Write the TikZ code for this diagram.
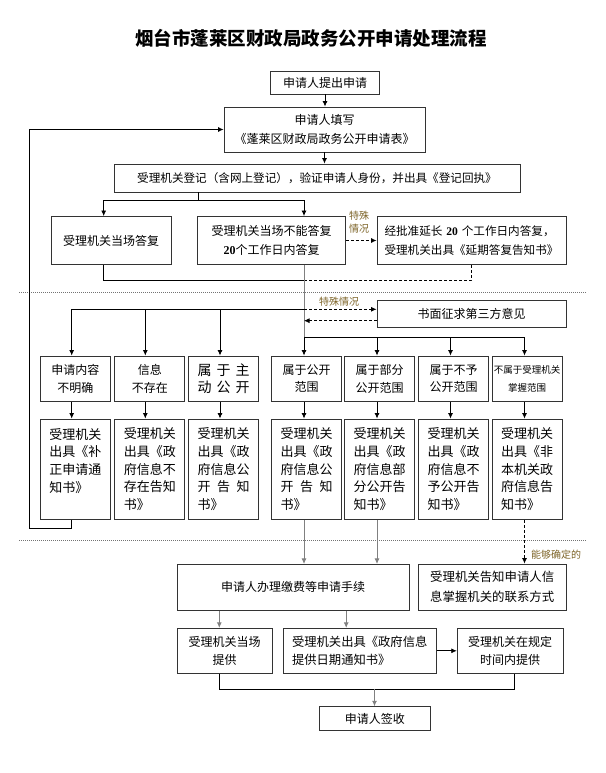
\documentclass[tikz,border=0pt]{standalone}
\usepackage{fontspec}
\setmainfont{Noto Sans CJK SC}
\newfontfamily\tnr{Liberation Serif}
\usetikzlibrary{arrows.meta,calc}
\definecolor{labc}{RGB}{125,100,40}
\newcommand\myfs[2]{\fontsize{#1}{#2}\selectfont}
\newcommand\twenty{{\tnr\bfseries 20}}
\begin{document}
\begin{tikzpicture}[x=1pt,y=-1pt,
 bx/.style={draw=black!80, line width=0.9pt, inner sep=0pt, align=center, fill=white, font=\myfs{12}{18}},
 hbx/.style={bx, minimum width=70pt, minimum height=45.5pt, font=\myfs{12}{17.6}},
 ibx/.style={bx, minimum width=70pt, minimum height=100.3pt, text width=52pt, align=left, font=\myfs{13}{17.8}},
 ln/.style={line width=0.8pt, draw=black},
 gln/.style={line width=0.8pt, draw=black!50},
 arw/.style={-{Latex[length=5.5pt,width=5pt]}},
 dsh/.style={line width=0.8pt, draw=black, dash pattern=on 3pt off 2pt},
 sepline/.style={draw=black!55, line width=0.6pt, dash pattern=on 1pt off 1pt},
 lab/.style={text=labc, inner sep=0pt, align=center, font=\myfs{10}{13}},
]
\fill[white] (0,0) rectangle (605,773);
\useasboundingbox (0,0) rectangle (605,773);

% title
\node[font=\myfs{18.5}{22}\bfseries] (T) at (311,38) {烟台市蓬莱区财政局政务公开申请处理流程};

% top part
\node[bx, minimum width=109pt, minimum height=23pt] (A) at (325,82.5) {申请人提出申请};
\node[bx, minimum width=201pt, minimum height=45pt, font=\myfs{12}{19}] (B) at (324.5,129.5) {申请人填写\\《蓬莱区财政局政务公开申请表》};
\node[bx, minimum width=406pt, minimum height=28pt, font=\myfs{11.6}{18}] (C) at (317,178) {受理机关登记（含网上登记），验证申请人身份，并出具《登记回执》};
\node[bx, minimum width=120pt, minimum height=48pt] (D) at (111,240.5) {受理机关当场答复};
\node[bx, minimum width=148pt, minimum height=48pt, font=\myfs{12}{18.3}] (E) at (271.5,240.5) {受理机关当场不能答复\\\twenty 个工作日内答复};
\node[bx, minimum width=189pt, minimum height=48pt, text width=174pt, align=left, font=\myfs{11.6}{18.3}] (F) at (471.5,240.5) {经批准延长 \twenty{} 个工作日内答复，\\受理机关出具《延期答复告知书》};
\node[bx, minimum width=189pt, minimum height=27pt] (G) at (471.5,314.2) {书面征求第三方意见};

% row H
\node[hbx] (H1) at (75.3,378.75) {申请内容\\不明确};
\node[hbx] (H2) at (149.9,378.75) {信息\\不存在};
\node[hbx, font=\myfs{14}{17.4}] (H3) at (223.7,378.75) {\makebox[52pt][s]{属\hfill 于\hfill 主}\\\makebox[52pt][s]{动\hfill 公\hfill 开}};
\node[hbx] (H4) at (306.7,378.75) {属于公开\\范围};
\node[hbx] (H5) at (379.5,378.75) {属于部分\\公开范围};
\node[hbx] (H6) at (453.5,378.75) {属于不予\\公开范围};
\node[hbx, font=\myfs{9.5}{17.6}] (H7) at (527,378.75) {不属于受理机关\\掌握范围};

% row I
\node[ibx] (I1) at (75.3,469.15) {受理机关\\出具《补\\正申请通\\知书》\\\mbox{}};
\node[ibx] (I2) at (149.9,469.15) {受理机关\\出具《政\\府信息不\\存在告知\\书》};
\node[ibx] (I3) at (223.7,469.15) {受理机关\\出具《政\\府信息公\\\makebox[52pt][s]{开\hfill 告\hfill 知}\\书》};
\node[ibx] (I4) at (306.7,469.15) {受理机关\\出具《政\\府信息公\\\makebox[52pt][s]{开\hfill 告\hfill 知}\\书》};
\node[ibx] (I5) at (379.5,469.15) {受理机关\\出具《政\\府信息部\\分公开告\\知书》};
\node[ibx] (I6) at (453.5,469.15) {受理机关\\出具《政\\府信息不\\予公开告\\知书》};
\node[ibx] (I7) at (527,469.15) {受理机关\\出具《非\\本机关政\\府信息告\\知书》};

% bottom part
\node[bx, minimum width=232pt, minimum height=45.7pt] (J) at (293,587.2) {申请人办理缴费等申请手续};
\node[bx, minimum width=147.7pt, minimum height=46pt, text width=124pt, align=left, font=\myfs{12.4}{20}] (K) at (492.2,587) {受理机关告知申请人信\\息掌握机关的联系方式};
\node[bx, minimum width=95pt, minimum height=45pt, font=\myfs{12}{18.3}] (L1) at (224.5,650.8) {受理机关当场\\提供};
\node[bx, minimum width=153.4pt, minimum height=45pt, text width=135.3pt, align=left, font=\myfs{12.3}{18.3}] (L2) at (359.7,650.8) {受理机关出具《政府信息\\提供日期通知书》};
\node[bx, minimum width=105.7pt, minimum height=45pt, font=\myfs{12}{18.3}] (L3) at (510.1,650.8) {受理机关在规定\\时间内提供};
\node[bx, minimum width=110.5pt, minimum height=24pt] (M) at (374.75,718.7) {申请人签收};

% labels
\node[lab] (s1) at (359,222.5) {特殊\\情况};
\node[lab] (s2) at (339,302) {特殊情况};
\node[lab] (s3) at (556,555) {能够确定的};

% separators
\draw[sepline] (19,292) -- (587,292);
\draw[sepline] (19,540.5) -- (587,540.5);

% x positions
\coordinate (xD) at (103.7,0);
\coordinate (xE) at (304,0);
\coordinate (xH1) at (71.7,0);
\coordinate (xH2) at (145.3,0);
\coordinate (xH3) at (220,0);
\coordinate (xH5) at (377,0);
\coordinate (xH6) at (450.5,0);
\coordinate (xH7) at (524.5,0);
\coordinate (xL1) at (219.3,0);
\coordinate (xL2) at (346.2,0);
\coordinate (xL3) at (514.5,0);
% junctions
\coordinate (c1) at (198,200.7);
\coordinate (m1) at (304,280);
\coordinate (lb) at (304,309.3);
\coordinate (g2) at (304,320.7);
\coordinate (rb) at (304,337);
\coordinate (fb) at (29.5,528.3);
\coordinate (bm) at (374.5,689.3);

% connectors top
\draw[ln,arw] (A.south) -- (A.south |- B.north);
\draw[ln,arw] (B.south) -- (B.south |- C.north);
\draw[ln] (C.south -| c1) -- (c1);
\draw[ln,arw] (c1) -| (D.north -| xD);
\draw[ln,arw] (c1) -| (E.north -| xE);
\draw[dsh,arw] (E.east) -- (F.west);
\draw[ln] (D.south -| xD) |- (m1);
\draw[dsh] (F.south) |- (m1);
\draw[gln] (E.south -| xE) -- (rb);

% left branch
\draw[ln] (lb) -- (lb -| xH1);
\draw[ln,arw] (lb -| xH1) -- (H1.north -| xH1);
\draw[ln,arw] (lb -| xH2) -- (H2.north -| xH2);
\draw[ln,arw] (lb -| xH3) -- (H3.north -| xH3);
\draw[dsh,arw] (lb) -- (G.west |- lb);
\draw[dsh,arw] (G.west |- g2) -- (g2);

% right branch
\draw[ln] (rb) -- (rb -| xH7);
\draw[ln,arw] (rb) -- (H4.north -| rb);
\draw[ln,arw] (rb -| xH5) -- (H5.north -| xH5);
\draw[ln,arw] (rb -| xH6) -- (H6.north -| xH6);
\draw[ln,arw] (rb -| xH7) -- (H7.north -| xH7);

% H to I
\draw[ln,arw] (H1.south -| xH1) -- (I1.north -| xH1);
\draw[ln,arw] (H2.south -| xH2) -- (I2.north -| xH2);
\draw[ln,arw] (H3.south -| xH3) -- (I3.north -| xH3);
\draw[ln,arw] (H4.south -| xE) -- (I4.north -| xE);
\draw[ln,arw] (H5.south -| xH5) -- (I5.north -| xH5);
\draw[ln,arw] (H6.south -| xH6) -- (I6.north -| xH6);
\draw[ln,arw] (H7.south -| xH7) -- (I7.north -| xH7);

% feedback
\draw[ln,arw] (I1.south -| xH1) |- (fb) |- (B.west);

% to J and K
\draw[gln,arw] (I4.south -| xE) -- (J.north -| xE);
\draw[gln,arw] (I5.south -| xH5) -- (J.north -| xH5);
\draw[dsh,arw] (I7.south -| xH7) -- (K.north -| xH7);

% J to L
\draw[gln,arw] (J.south -| xL1) -- (L1.north -| xL1);
\draw[gln,arw] (J.south -| xL2) -- (L2.north -| xL2);
\draw[ln,arw] (L2.east) -- (L3.west);
\draw[ln] (L1.south -| xL1) |- (bm) -| (L3.south -| xL3);
\draw[gln,arw] (bm) -- (M.north -| bm);
\end{tikzpicture}
\end{document}
